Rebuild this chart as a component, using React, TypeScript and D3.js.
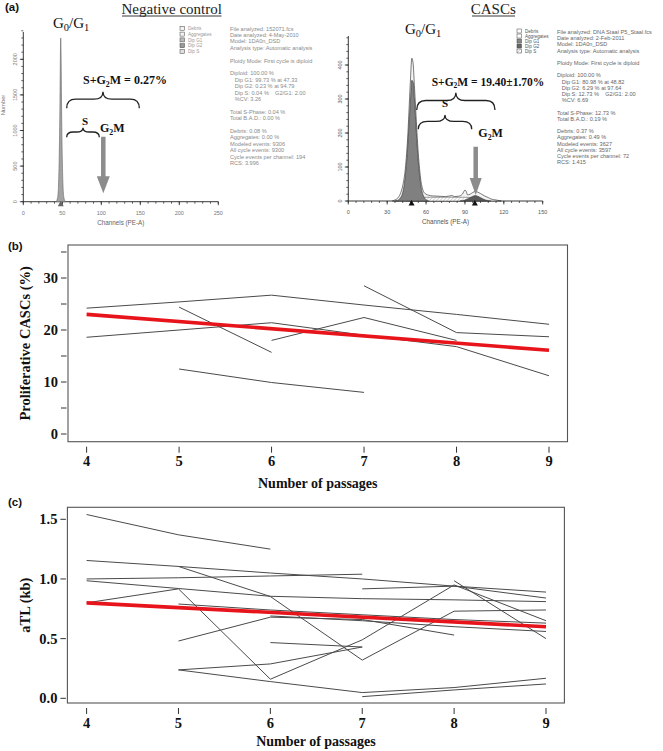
import React from 'react';
import * as d3 from 'd3';

// ---------------- DATA ----------------
// Panel (a) left: negative control histogram
const negChannels = [42, 44, 45, 46, 47, 47.5, 48, 48.5, 49, 50, 51, 52, 54];
const negCounts = [0, 60, 200, 600, 1400, 2000, 2300, 2000, 1400, 600, 200, 60, 0];
const negXTicks = [0, 50, 100, 150, 200, 250];
const negYTicks = [0, 500, 1000, 1500, 2000];
const negMarker = [48];

// Panel (a) right: CASCs histogram
const cascTotalCh = [34, 36, 38, 40, 42, 44, 45, 46, 47, 48, 49, 50, 51, 52, 53, 54, 55, 56, 57, 58, 60, 62, 65, 70, 75, 80, 82, 85, 88, 90, 91, 92, 94, 96, 98, 100, 102, 105, 108, 110, 114, 118];
const cascTotal = [0, 3, 8, 20, 45, 95, 140, 200, 280, 360, 420, 405, 340, 270, 200, 140, 95, 60, 40, 28, 20, 17, 15, 14, 13, 16, 13, 14, 20, 32, 28, 18, 20, 25, 28, 26, 22, 15, 10, 6, 3, 0];
const cascG1Ch = [36, 38, 40, 42, 43, 44, 45, 46, 47, 48, 49, 50, 51, 52, 53, 54, 55, 56, 58, 60, 62];
const cascG1 = [0, 2, 8, 25, 45, 75, 115, 170, 235, 300, 355, 350, 300, 235, 170, 115, 75, 45, 15, 4, 0];
const cascSCh = [45, 48, 52, 60, 70, 80, 90, 97, 100, 104, 106];
const cascS = [0, 5, 9, 11, 11, 11, 11, 10, 7, 3, 0];
const cascG2Ch = [86, 90, 93, 96, 98, 100, 103, 106, 110];
const cascG2 = [0, 3, 8, 14, 16, 14, 8, 3, 0];
const cascXTicks = [0, 30, 60, 90, 120, 150];
const cascYTicks = [0, 100, 200, 300, 400];
const cascMarkers = [48.82, 97.64];

const legendLabels = ['Debris', 'Aggregates', 'Dip G1', 'Dip G2', 'Dip S'];

const negReport = [
  'File analyzed: 152071.fcs',
  'Date analyzed: 4-May-2010',
  'Model: 1DA0n_DSD',
  'Analysis type: Automatic analysis',
  '',
  'Ploidy Mode: First cycle is diploid',
  '',
  'Diploid: 100.00 %',
  '   Dip G1: 99.73 % at 47.33',
  '   Dip G2: 0.23 % at 94.79',
  '   Dip S: 0.04 %    G2/G1: 2.00',
  '   %CV: 3.26',
  '',
  'Total S-Phase: 0.04 %',
  'Total B.A.D.: 0.00 %',
  '',
  'Debris: 0.08 %',
  'Aggregates: 0.00 %',
  'Modeled events: 9306',
  'All cycle events: 9300',
  'Cycle events per channel: 194',
  'RCS: 3.996',
];
const cascReport = [
  'File analyzed: DNA Staal P5_Staal.fcs',
  'Date analyzed: 2-Feb-2011',
  'Model: 1DA0n_DSD',
  'Analysis type: Automatic analysis',
  '',
  'Ploidy Mode: First cycle is diploid',
  '',
  'Diploid: 100.00 %',
  '   Dip G1: 80.98 % at 48.82',
  '   Dip G2: 6.29 % at 97.64',
  '   Dip S: 12.73 %    G2/G1: 2.00',
  '   %CV: 6.69',
  '',
  'Total S-Phase: 12.73 %',
  'Total B.A.D.: 0.19 %',
  '',
  'Debris: 0.37 %',
  'Aggregates: 0.49 %',
  'Modeled events: 3627',
  'All cycle events: 3597',
  'Cycle events per channel: 72',
  'RCS: 1.415',
];

// Panel (b)
const passages = [4, 5, 6, 7, 8, 9];
const prolifA = [24.2, 25.4, 26.7, 24.8, 23.0, 21.1];
const prolifB = [null, null, null, 28.5, 19.5, 18.7];
const prolifC = [18.6, 20.0, 21.4, 19.0, 16.8, 11.2];
const prolifD = [null, null, 18.0, 22.4, 18.0, null];
const prolifE = [null, 24.4, 15.7, null, null, null];
const prolifF = [null, 12.5, 9.9, 8.0, null, null];
const prolifTrend = [23.0, 16.1];
const trendPassages = [4, 9];
const prolifTicks = [0, 5, 10, 15, 20, 25, 30, 35];
const prolifLabels = [0, 10, 20, 30];

// Panel (c)
const atl1 = [1.54, 1.37, 1.25, null, null, null];
const atl2 = [1.155, 1.105, 1.05, 1.0, 0.94, 0.89];
const atl3 = [1.0, 1.01, 1.025, 1.04, null, null];
const atl4 = [null, 1.105, 0.853, 0.32, 0.73, 0.74];
const atl5 = [0.985, 0.92, 0.855, 0.835, 0.825, 0.81];
const atl6 = [0.8, 0.917, 0.16, 0.49, 0.95, 0.65];
const atl7 = [null, 0.48, 0.68, 0.66, 0.53, null];
const atl8 = [null, null, 0.467, 0.43, null, null];
const atl9 = [null, 0.238, 0.288, 0.43, null, null];
const atl10 = [null, 0.238, 0.14, 0.048, 0.09, 0.168];
const atl11 = [null, null, null, 0.014, 0.07, 0.12];
const atl12 = [null, null, null, 0.917, 0.94, 0.84];
const atl13 = [null, null, null, null, 0.985, 0.5];
const atl14 = [null, 0.79, 0.74, 0.7, 0.66, 0.63];
const atl15 = [null, null, 0.69, 0.65, 0.6, 0.56];
const atlTrend = [0.8, 0.6];
const atlTicks = [0, 0.5, 1.0, 1.5];

// ---------------- HELPERS ----------------
const SERIF = "'Liberation Serif', 'DejaVu Serif', 'Times New Roman', serif";
const SANS = "'Liberation Sans', Arial, sans-serif";

function brace(x1: number, x2: number, yTip: number, yEnd: number) {
  const mid = (x1 + x2) / 2;
  const yb = yTip + (yEnd - yTip) * 0.45;
  const r = Math.min(9, (x2 - x1) / 5);
  return `M${x1},${yEnd} Q${x1},${yb} ${x1 + r},${yb} L${mid - r},${yb} Q${mid},${yb} ${mid},${yTip} Q${mid},${yb} ${mid + r},${yb} L${x2 - r},${yb} Q${x2},${yb} ${x2},${yEnd}`;
}

function Arrow({ x, y1, y2, headLen, headW, color }: any) {
  const sw = 4.5;
  const d = `M${x - sw / 2},${y1} L${x + sw / 2},${y1} L${x + sw / 2},${y2 - headLen} L${x + headW / 2},${y2 - headLen} L${x},${y2} L${x - headW / 2},${y2 - headLen} L${x - sw / 2},${y2 - headLen} Z`;
  return <path d={d} fill={color} />;
}

function G0G1({ x, y, size }: any) {
  return (
    <text x={x} y={y} fontFamily={SERIF} fontSize={size} fill="#111">
      G<tspan dy={3} fontSize={size * 0.7}>0</tspan>
      <tspan dy={-3}>/G</tspan>
      <tspan dy={3} fontSize={size * 0.7}>1</tspan>
    </text>
  );
}

function G2M({ x, y, size, prefix, suffix }: any) {
  return (
    <text x={x} y={y} fontFamily={SERIF} fontSize={size} fontWeight="bold" fill="#111">
      {prefix}G<tspan dy={2.5} fontSize={size * 0.65}>2</tspan>
      <tspan dy={-2.5}>M{suffix}</tspan>
    </text>
  );
}

function Histogram(props: any) {
  const { xs, ys, xTicks, xMinor, yTicks, yMinor, yTop, textColor, labelColor } = props;
  const [x0, x1] = xs.range();
  const y0 = ys(0);
  return (
    <g>
      <line x1={x0} x2={x1} y1={y0} y2={y0} stroke="#222" strokeWidth={0.9} />
      {xMinor.map((t: number) => (
        <line key={'xm' + t} x1={xs(t)} x2={xs(t)} y1={y0} y2={y0 + 2} stroke="#222" strokeWidth={0.7} />
      ))}
      {xTicks.map((t: number) => (
        <g key={'xt' + t}>
          <line x1={xs(t)} x2={xs(t)} y1={y0} y2={y0 + 3.5} stroke="#222" strokeWidth={0.8} />
          <text x={xs(t)} y={y0 + 13} textAnchor="middle" fontFamily={SANS} fontSize={5.5} fill={labelColor}>{t}</text>
        </g>
      ))}
      <line x1={x0} x2={x0} y1={y0} y2={yTop} stroke="#222" strokeWidth={0.9} />
      {yMinor.map((t: number) => (
        <line key={'ym' + t} x1={x0 - 2} x2={x0} y1={ys(t)} y2={ys(t)} stroke="#222" strokeWidth={0.7} />
      ))}
      {yTicks.map((t: number) => (
        <g key={'yt' + t}>
          <line x1={x0 - 3.5} x2={x0} y1={ys(t)} y2={ys(t)} stroke="#222" strokeWidth={0.8} />
          <text transform={`translate(${x0 - 6},${ys(t)}) rotate(-90)`} textAnchor="middle" fontFamily={SANS} fontSize={5.5} fill={labelColor}>{t}</text>
        </g>
      ))}
      <text x={(x0 + x1) / 2} y={y0 + 23} textAnchor="middle" fontFamily={SANS} fontSize={6.3} fill={textColor}>Channels (PE-A)</text>
    </g>
  );
}

function Legend({ x, y, fills, color, spacing }: any) {
  return (
    <g>
      {legendLabels.map((l, i) => (
        <g key={l}>
          <rect x={x} y={y + i * spacing - 2} width={4.5} height={4} fill={fills[i]} stroke="#444" strokeWidth={0.5} />
          <text x={x + 8} y={y + i * spacing + 1.6} fontFamily={SANS} fontSize={4.6} fill={color}>{l}</text>
        </g>
      ))}
    </g>
  );
}

function Report({ x, y, lines, color, size, spacing }: any) {
  return (
    <text fontFamily={SANS} fontSize={size} fill={color}>
      {lines.map((l: string, i: number) => (
        <tspan key={i} x={x} y={y + i * spacing} style={{ whiteSpace: 'pre' }}>{l}</tspan>
      ))}
    </text>
  );
}

function LinePanel(props: any) {
  const { xs, ys, frame, series, trend, ticks, labels, fmt, yTitle, yTitleX, xLabelY, xTitleY } = props;
  const line = d3
    .line<any>()
    .defined((d) => d[1] != null)
    .x((d) => xs(d[0]))
    .y((d) => ys(d[1]));
  const tickLeft = frame.x - 7;
  const tickRight = frame.x - 1.5;
  return (
    <g>
      <rect x={frame.x} y={frame.y} width={frame.w} height={frame.h} fill="none" stroke="#555" strokeWidth={1.1} />
      {ticks.map((t: number) => (
        <line key={'t' + t} x1={tickLeft} x2={tickRight} y1={ys(t)} y2={ys(t)} stroke="#333" strokeWidth={1} />
      ))}
      {labels.map((t: number) => (
        <text key={'l' + t} x={tickLeft - 3} y={ys(t) + 5} textAnchor="end" fontFamily={SERIF} fontWeight="bold" fontSize={14.5} fill="#111">{fmt(t)}</text>
      ))}
      {passages.map((p) => (
        <g key={'x' + p}>
          <line x1={xs(p)} x2={xs(p)} y1={frame.y + frame.h + 5} y2={frame.y + frame.h + 11} stroke="#333" strokeWidth={1} />
          <text x={xs(p)} y={xLabelY} textAnchor="middle" fontFamily={SERIF} fontWeight="bold" fontSize={14.5} fill="#111">{p}</text>
        </g>
      ))}
      {series.map((s: (number | null)[], i: number) => (
        <path key={'s' + i} d={line(passages.map((p, j) => [p, s[j]])) || ''} fill="none" stroke="#4a4a4a" strokeWidth={1} />
      ))}
      <path d={line(trendPassages.map((p, j) => [p, trend[j]])) || ''} fill="none" stroke="#e8141b" strokeWidth={3.6} />
      <text x={(frame.x + frame.x + frame.w) / 2} y={xTitleY} textAnchor="middle" fontFamily={SERIF} fontWeight="bold" fontSize={14} fill="#111">Number of passages</text>
      <text transform={`translate(${yTitleX},${frame.y + frame.h / 2}) rotate(-90)`} textAnchor="middle" fontFamily={SERIF} fontWeight="bold" fontSize={14.5} fill="#111">{yTitle}</text>
    </g>
  );
}

export default function App() {
  const nx = d3.scaleLinear().domain([0, 250]).range([23.3, 218.3]);
  const ny = d3.scaleLinear().domain([0, 2000]).range([201.7, 59.3]);
  const negArea = d3
    .area<number>()
    .x((_, i) => nx(negChannels[i]))
    .y0(ny(0))
    .y1((d) => ny(d))
    .curve(d3.curveMonotoneX);

  const cx = d3.scaleLinear().domain([0, 150]).range([348.3, 542.7]);
  const cy = d3.scaleLinear().domain([0, 400]).range([201, 65]);
  const areaOf = (chs: number[]) =>
    d3
      .area<number>()
      .x((_, i) => cx(chs[i]))
      .y0(cy(0))
      .y1((d) => cy(d))
      .curve(d3.curveMonotoneX);

  const bx = d3.scaleLinear().domain([4, 9]).range([86.6, 549]);
  const by = d3.scaleLinear().domain([0, 35]).range([434, 252]);
  const px = d3.scaleLinear().domain([4, 9]).range([86.6, 546]);
  const py = d3.scaleLinear().domain([0, 1.5]).range([698.3, 519.3]);

  const negMinorX = d3.range(0, 251, 10);
  const negMinorY = d3.range(0, 2401, 100);
  const cascMinorX = d3.range(0, 151, 6);
  const cascMinorY = d3.range(0, 481, 20);

  const tri = (x: number, y: number, c: string) => (
    <path d={`M${x},${y - 1} L${x + 3},${y + 4.5} L${x - 3},${y + 4.5} Z`} fill={c} />
  );

  return (
    <svg width={663} height={751} style={{ position: 'absolute', left: 0, top: 0, background: '#fff' }}>
      <defs>
        <pattern id="hatch" width={2.5} height={2.5} patternUnits="userSpaceOnUse" patternTransform="rotate(45)">
          <rect width={2.5} height={2.5} fill="#fff" />
          <line x1={0} y1={0} x2={0} y2={2.5} stroke="#777" strokeWidth={0.6} />
        </pattern>
      </defs>
      <rect x={0} y={0} width={663} height={751} fill="#fff" />

      {/* ===== Panel (a) ===== */}
      <text x={5} y={11} fontFamily={SANS} fontWeight="bold" fontSize={11.5} fill="#111">(a)</text>

      {/* Negative control */}
      <text x={171.7} y={14} textAnchor="middle" fontFamily={SERIF} fontSize={15} fill="#222">Negative control</text>
      <line x1={122} x2={221.5} y1={16} y2={16} stroke="#222" strokeWidth={0.9} />
      <text transform="translate(5,105) rotate(-90)" textAnchor="middle" fontFamily={SANS} fontSize={5.8} fill="#777">Number</text>
      <Histogram xs={nx} ys={ny} xTicks={negXTicks} xMinor={negMinorX} yTicks={negYTicks} yMinor={negMinorY} yTop={32} textColor="#666" labelColor="#777" />
      <path d={negArea(negCounts) || ''} fill="#a3a3a3" stroke="#666" strokeWidth={0.6} />
      {negMarker.map((m) => <g key={m}>{tri(nx(m), ny(0), '#666')}</g>)}
      <Legend x={180} y={28.3} spacing={5.8} fills={['#f2f2f2', '#f2f2f2', '#bbb', '#999', '#e0e0e0']} color="#999" />
      <Report x={230} y={30.5} lines={negReport} color="#8a8a8a" size={5.6} spacing={6.4} />
      <G0G1 x={53} y={28} size={15} />
      <G2M x={83} y={84} size={12} prefix="S+" suffix=" = 0.27%" />
      <path d={brace(66.7, 139.3, 91.7, 108.3)} fill="none" stroke="#222" strokeWidth={1.3} />
      <text x={85} y={125} textAnchor="middle" fontFamily={SERIF} fontWeight="bold" fontSize={11} fill="#111">S</text>
      <path d={brace(66.7, 99.3, 127.7, 137.3)} fill="none" stroke="#222" strokeWidth={1.3} />
      <G2M x={100} y={132} size={12} prefix="" suffix="" />
      <Arrow x={103.3} y1={136.7} y2={193.3} headLen={17} headW={13} color="#8c8c8c" />

      {/* CASCs */}
      <text x={493.3} y={14} textAnchor="middle" fontFamily={SERIF} fontSize={15} fill="#222">CASCs</text>
      <line x1={472} x2={515} y1={16} y2={16} stroke="#222" strokeWidth={0.9} />
      <Histogram xs={cx} ys={cy} xTicks={cascXTicks} xMinor={cascMinorX} yTicks={cascYTicks} yMinor={cascMinorY} yTop={36} textColor="#555" labelColor="#555" />
      <path d={areaOf(cascTotalCh)(cascTotal) || ''} fill="#f4f4f4" stroke="#222" strokeWidth={0.6} />
      <path d={areaOf(cascSCh)(cascS) || ''} fill="url(#hatch)" stroke="#444" strokeWidth={0.5} />
      <path d={areaOf(cascG1Ch)(cascG1) || ''} fill="#808080" stroke="#333" strokeWidth={0.6} />
      <path d={areaOf(cascG2Ch)(cascG2) || ''} fill="#5a5a5a" stroke="#333" strokeWidth={0.5} />
      {cascMarkers.map((m) => <g key={m}>{tri(cx(m), cy(0), '#111')}</g>)}
      <Legend x={517} y={31} spacing={5.0} fills={['#fff', '#fff', '#888', '#666', 'url(#hatch)']} color="#555" />
      <Report x={557} y={34} lines={cascReport} color="#666" size={5.6} spacing={6.2} />
      <G0G1 x={405} y={34} size={15} />
      <G2M x={431.7} y={85.5} size={11.5} prefix="S+" suffix=" = 19.40±1.70%" />
      <path d={brace(416.7, 495, 92.7, 110)} fill="none" stroke="#222" strokeWidth={1.3} />
      <text x={445} y={107} textAnchor="middle" fontFamily={SERIF} fontWeight="bold" fontSize={11} fill="#111">S</text>
      <path d={brace(418.3, 471.7, 115, 129.3)} fill="none" stroke="#222" strokeWidth={1.3} />
      <G2M x={478.3} y={137} size={12} prefix="" suffix="" />
      <Arrow x={475.7} y1={146.7} y2={195} headLen={17} headW={12} color="#8c8c8c" />

      {/* ===== Panel (b) ===== */}
      <text x={8} y={250} fontFamily={SANS} fontWeight="bold" fontSize={11.5} fill="#111">(b)</text>
      <LinePanel
        xs={bx}
        ys={by}
        frame={{ x: 68, y: 245, w: 499.5, h: 196.7 }}
        series={[prolifA, prolifB, prolifC, prolifD, prolifE, prolifF]}
        trend={prolifTrend}
        ticks={prolifTicks}
        labels={prolifLabels}
        fmt={(t: number) => String(t)}
        yTitle="Proliferative CASCs (%)"
        yTitleX={30}
        xLabelY={466}
        xTitleY={488}
      />

      {/* ===== Panel (c) ===== */}
      <text x={8} y={506} fontFamily={SANS} fontWeight="bold" fontSize={11.5} fill="#111">(c)</text>
      <LinePanel
        xs={px}
        ys={py}
        frame={{ x: 67.4, y: 507.3, w: 497, h: 195.7 }}
        series={[atl1, atl2, atl3, atl4, atl5, atl6, atl7, atl8, atl9, atl10, atl11, atl12, atl13, atl14, atl15]}
        trend={atlTrend}
        ticks={atlTicks}
        labels={atlTicks}
        fmt={(t: number) => t.toFixed(1)}
        yTitle="aTL (kb)"
        yTitleX={30}
        xLabelY={728}
        xTitleY={746}
      />
    </svg>
  );
}
